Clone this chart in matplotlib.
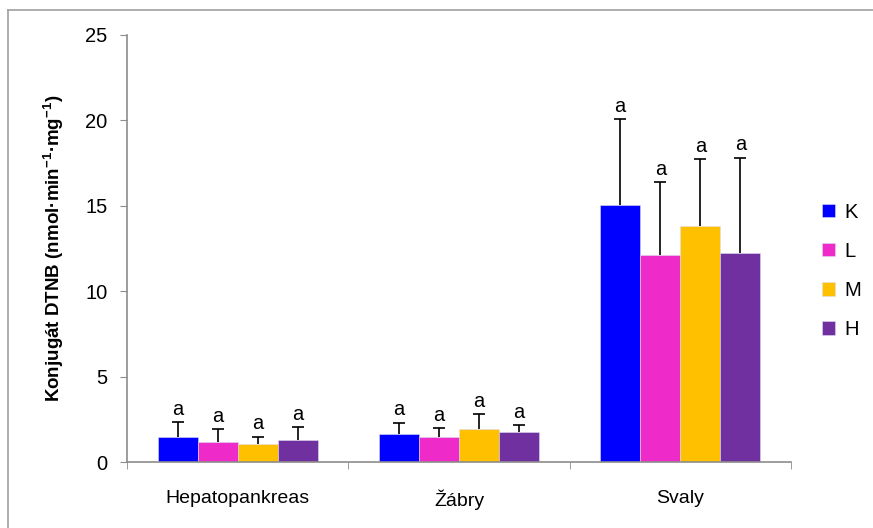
import numpy as np
import matplotlib
matplotlib.use("Agg")
import matplotlib.pyplot as plt
from matplotlib.lines import Line2D

plt.rcParams['font.family'] = ['Liberation Sans', 'DejaVu Sans']
plt.rcParams['mathtext.fontset'] = 'custom'
plt.rcParams['mathtext.rm'] = 'Liberation Sans'
plt.rcParams['mathtext.bf'] = 'Liberation Sans:bold'

tissues = ['Hepatopankreas', 'Žábry', 'Svaly']
groups = ['K', 'L', 'M', 'H']
colors = ['#0000FF', '#EE2BC8', '#FFC000', '#7030A0']

means = {
    'K': [1.44, 1.62, 15.05],
    'L': [1.19, 1.44, 12.12],
    'M': [1.03, 1.93, 13.82],
    'H': [1.27, 1.76, 12.25],
}
err_top = {
    'K': [2.32, 2.30, 20.08],
    'L': [1.91, 1.99, 16.38],
    'M': [1.48, 2.79, 17.74],
    'H': [2.05, 2.17, 17.82],
}
letters = ['a', 'a', 'a', 'a']

fig = plt.figure(figsize=(8.73, 5.28), dpi=100)
ax = fig.add_axes([127 / 873, 1 - 462 / 528, (791 - 127) / 873, (462 - 35) / 528])

x = np.arange(len(tissues))
w = 0.181
gray = '#8c8c8c'
for i, g in enumerate(groups):
    pos = x + (i - 1.5) * w
    m = np.array(means[g])
    e = np.array(err_top[g]) - m
    ax.bar(pos, m, w, color=colors[i], edgecolor='#dcdcf0', linewidth=0.4, label=g, zorder=2)
    eb = ax.errorbar(pos, m, yerr=[np.zeros_like(e), e], fmt='none', ecolor='black',
                     elinewidth=1.2, capsize=4, capthick=1.2, zorder=3)
    eb[1][0].set_visible(False)  # hide the lower caps
    for p, t in zip(pos, err_top[g]):
        ax.text(p, t + 0.2, letters[i], ha='center', va='bottom', fontsize=14.5)

ax.set_xlim(-0.5, 2.5)
ax.set_ylim(0, 25)
ax.set_yticks(range(0, 26, 5))
ax.tick_params(axis='y', direction='out', length=5, color=gray, labelsize=14.5, pad=9)
ax.set_xticks(x)
ax.set_xticklabels(tissues, fontsize=14)
ax.tick_params(axis='x', length=0, pad=20)
ax.set_xticks([-0.5, 0.5, 1.5, 2.5], minor=True)
ax.tick_params(axis='x', which='minor', direction='out', length=5, color=gray)
for s in ['top', 'right']:
    ax.spines[s].set_visible(False)
for s in ['left', 'bottom']:
    ax.spines[s].set_color(gray)
    ax.spines[s].set_linewidth(1.2)

ax.set_ylabel(r'Konjugát DTNB (nmol·min$^{\mathbf{-1}}$·mg$^{\mathbf{-1}}$)',
              fontsize=13.5, fontweight='bold', labelpad=14)

ax.legend(loc='upper left', bbox_to_anchor=(1.02, 0.65), frameon=False, fontsize=14.5,
          handlelength=0.65, handleheight=0.65, handletextpad=0.45, labelspacing=1.0)

fig.add_artist(Line2D([8 / 873, 8 / 873], [0, 1 - 10 / 528], color='#a0a0a0', lw=1.2,
                      transform=fig.transFigure))
fig.add_artist(Line2D([8 / 873, 1], [1 - 10 / 528, 1 - 10 / 528], color='#a0a0a0', lw=1.2,
                      transform=fig.transFigure))

fig.savefig('out.png', dpi=100)
